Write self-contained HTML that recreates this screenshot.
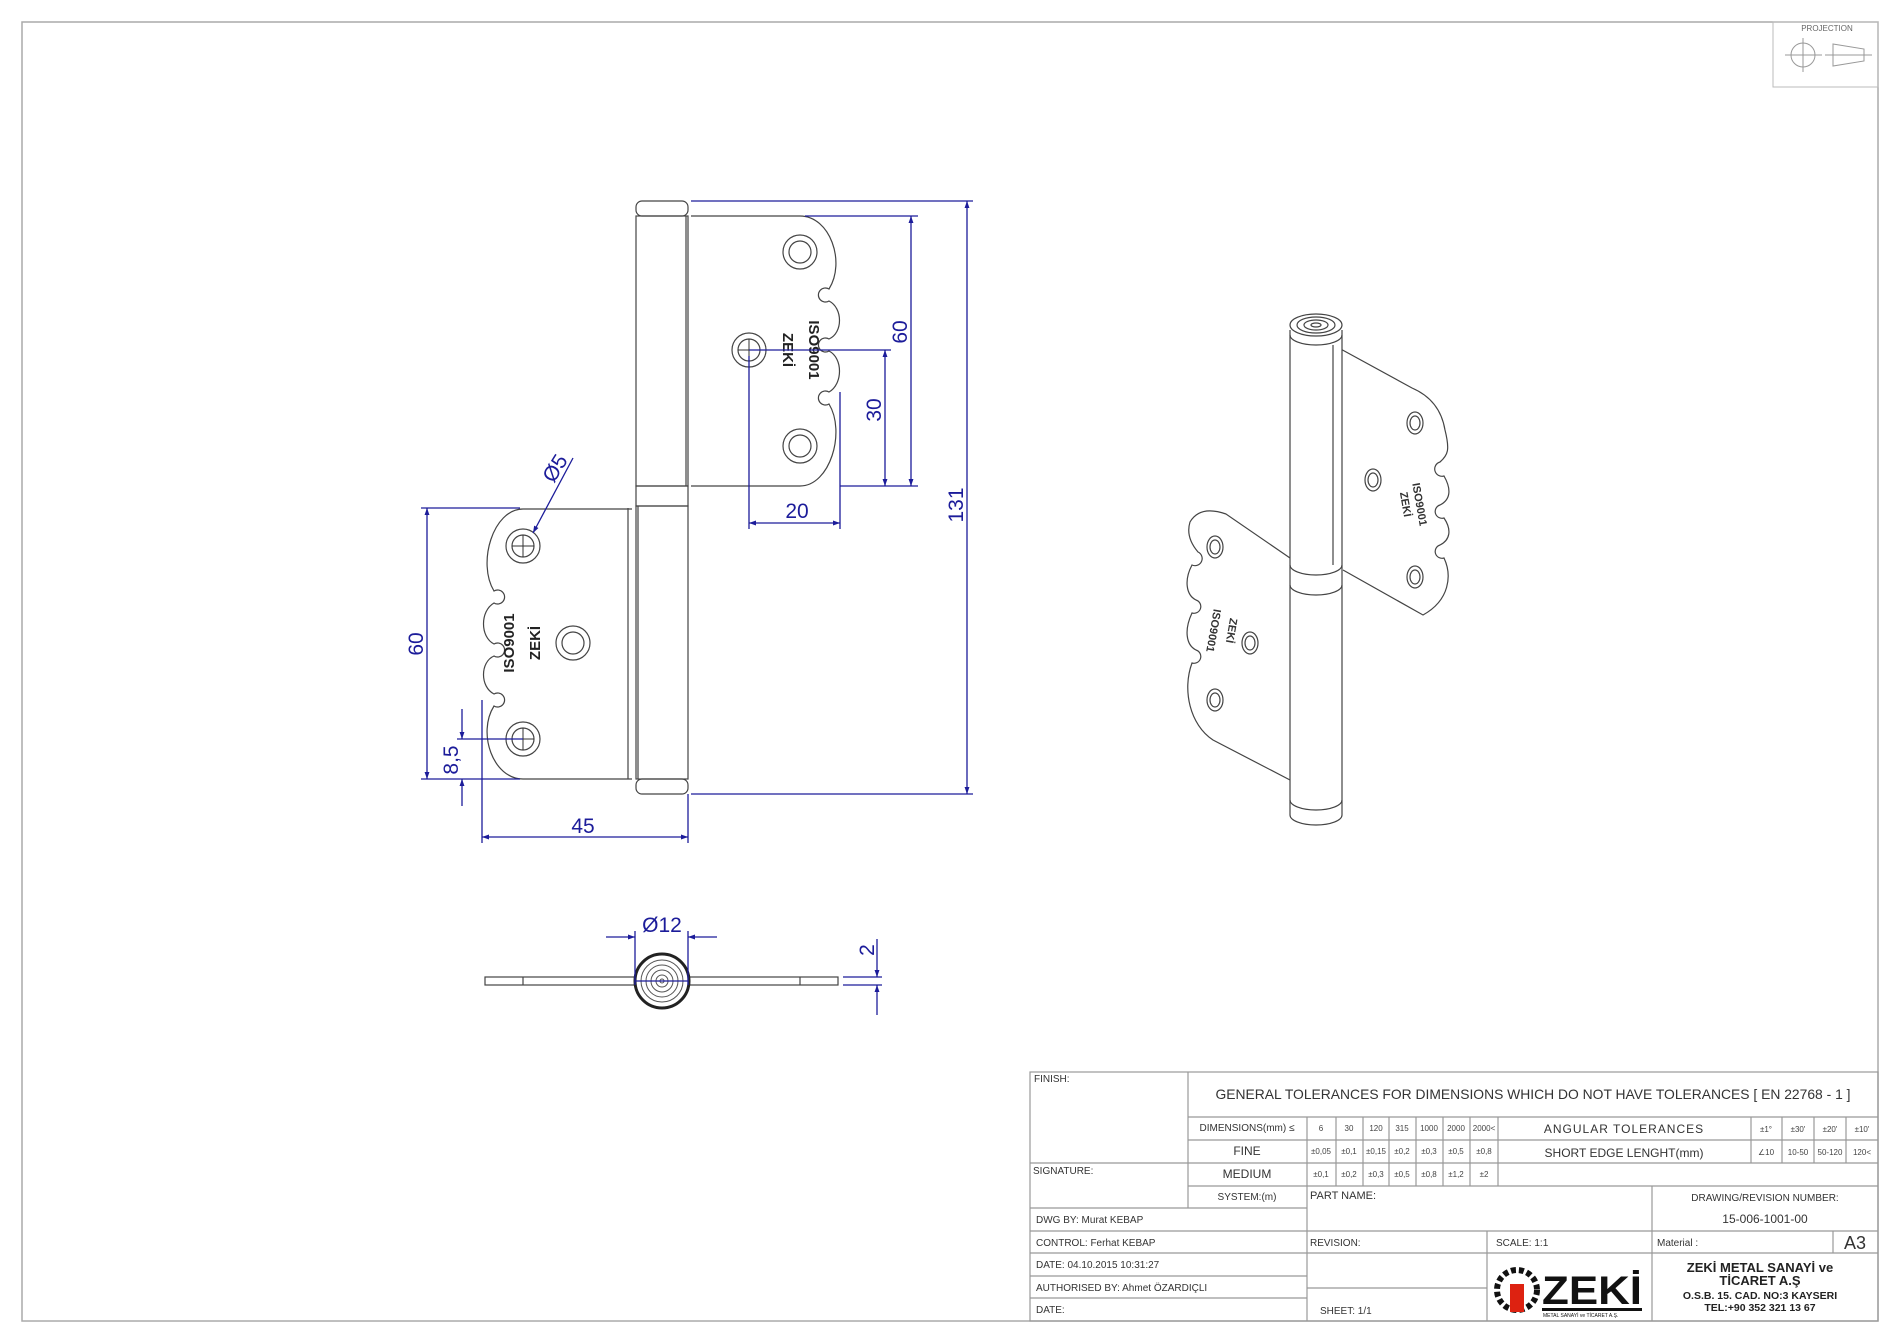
<!DOCTYPE html>
<html><head><meta charset="utf-8"><style>
html,body{margin:0;padding:0;background:#fff;}
svg{display:block;}
text{font-family:"Liberation Sans",sans-serif;}
.d{fill:#1c1c9a;}
.dl{stroke:#1c1c9a;stroke-width:1.3;fill:none;}
.g{stroke:#444;stroke-width:1.2;fill:none;}
.t{stroke:#999;stroke-width:1.2;fill:none;}
.s{font-size:10px;fill:#333;}
</style></head><body>
<svg width="1900" height="1343" viewBox="0 0 1900 1343" xmlns="http://www.w3.org/2000/svg">
<defs>
<marker id="a" viewBox="0 0 10 10" refX="10" refY="5" markerWidth="10" markerHeight="7" orient="auto-start-reverse" markerUnits="userSpaceOnUse"><path d="M0,1.5 L10,5 L0,8.5z" fill="#1c1c9a"/></marker>
<path id="leaf" d="M691,216 L800,216 C830,216 846,262 829,289 A7,7 0 1 0 829,301 C843,308 843,333 829,339 A7,7 0 1 0 829,351 C843,358 843,384 829,392 A7,7 0 1 0 829,404 C846,432 830,486 800,486 L691,486"/>
</defs>
<!-- frame -->
<rect x="22" y="22" width="1856" height="1299" fill="none" stroke="#aaa" stroke-width="1.5"/>
<rect x="1773" y="22" width="105" height="65" fill="none" stroke="#bbb" stroke-width="1"/>
<text x="1827" y="31" font-size="8" fill="#666" text-anchor="middle">PROJECTION</text>
<g stroke="#999" stroke-width="1" fill="none"><circle cx="1803" cy="55" r="12"/><line x1="1785" y1="55" x2="1822" y2="55"/><line x1="1803" y1="38" x2="1803" y2="72"/><path d="M1833,44 L1864,49 L1864,61 L1833,66z"/><line x1="1825" y1="55" x2="1872" y2="55"/></g>

<!-- FRONT VIEW -->
<g class="g">
<rect x="636" y="201" width="52" height="15" rx="6"/>
<rect x="636" y="216" width="52" height="270"/>
<line x1="686" y1="216" x2="686" y2="486"/>
<rect x="636" y="486" width="52" height="20"/>
<rect x="636" y="506" width="52" height="273"/>
<line x1="638" y1="506" x2="638" y2="779"/>
<rect x="636" y="779" width="52" height="15" rx="6"/>
<use href="#leaf"/>
<use href="#leaf" transform="rotate(180 661.5 497.5)"/>
<line x1="628" y1="508" x2="628" y2="779"/>
<circle cx="800" cy="252" r="17"/><circle cx="800" cy="252" r="11"/>
<circle cx="800" cy="446" r="17"/><circle cx="800" cy="446" r="11"/>
<circle cx="749" cy="350" r="17"/><circle cx="749" cy="350" r="11"/>
<circle cx="573" cy="643" r="17"/><circle cx="573" cy="643" r="11"/>
<circle cx="523" cy="546" r="17"/><circle cx="523" cy="546" r="11"/>
<circle cx="523" cy="739" r="17"/><circle cx="523" cy="739" r="11"/>
</g>
<g stroke="#333" stroke-width="1"><line x1="738" y1="350" x2="760" y2="350"/><line x1="749" y1="339" x2="749" y2="361"/>
<line x1="512" y1="546" x2="534" y2="546"/><line x1="523" y1="535" x2="523" y2="557"/>
<line x1="512" y1="739" x2="534" y2="739"/><line x1="523" y1="728" x2="523" y2="750"/></g>
<text transform="translate(783,350) rotate(90)" font-size="15" font-weight="bold" text-anchor="middle" fill="#222">ZEKİ</text>
<text transform="translate(809,350) rotate(90)" font-size="15" font-weight="bold" text-anchor="middle" fill="#222">ISO9001</text>
<text transform="translate(540,643) rotate(-90)" font-size="15" font-weight="bold" text-anchor="middle" fill="#222">ZEKİ</text>
<text transform="translate(514,643) rotate(-90)" font-size="15" font-weight="bold" text-anchor="middle" fill="#222">ISO9001</text>

<!-- dimensions -->
<g class="dl">
<line x1="691" y1="201" x2="973" y2="201"/><line x1="691" y1="794" x2="973" y2="794"/>
<line x1="967" y1="201" x2="967" y2="794" marker-start="url(#a)" marker-end="url(#a)"/>
<line x1="805" y1="216" x2="918" y2="216"/><line x1="840" y1="486" x2="918" y2="486"/>
<line x1="911" y1="216" x2="911" y2="486" marker-start="url(#a)" marker-end="url(#a)"/>
<line x1="749" y1="350" x2="891" y2="350"/>
<line x1="885" y1="350" x2="885" y2="486" marker-start="url(#a)" marker-end="url(#a)"/>
<line x1="749" y1="356" x2="749" y2="529"/><line x1="840" y1="392" x2="840" y2="529"/>
<line x1="749" y1="523" x2="840" y2="523" marker-start="url(#a)" marker-end="url(#a)"/>
<line x1="421" y1="508" x2="520" y2="508"/><line x1="421" y1="779" x2="520" y2="779"/>
<line x1="427" y1="508" x2="427" y2="779" marker-start="url(#a)" marker-end="url(#a)"/>
<line x1="457" y1="739" x2="523" y2="739"/>
<line x1="462" y1="709" x2="462" y2="739" marker-end="url(#a)"/>
<line x1="462" y1="806" x2="462" y2="779" marker-end="url(#a)"/>
<line x1="482" y1="700" x2="482" y2="843"/><line x1="688" y1="794" x2="688" y2="843"/>
<line x1="482" y1="837" x2="688" y2="837" marker-start="url(#a)" marker-end="url(#a)"/>
<line x1="573" y1="458" x2="533" y2="533" marker-end="url(#a)"/>
</g>
<text class="d" font-size="21" transform="translate(963,505) rotate(-90)" text-anchor="middle">131</text>
<text class="d" font-size="21" transform="translate(907,332) rotate(-90)" text-anchor="middle">60</text>
<text class="d" font-size="21" transform="translate(881,410) rotate(-90)" text-anchor="middle">30</text>
<text class="d" font-size="21" x="797" y="518" text-anchor="middle">20</text>
<text class="d" font-size="21" transform="translate(423,644) rotate(-90)" text-anchor="middle">60</text>
<text class="d" font-size="21" transform="translate(458,760) rotate(-90)" text-anchor="middle">8,5</text>
<text class="d" font-size="21" x="583" y="833" text-anchor="middle">45</text>
<text class="d" font-size="21" transform="translate(561,472) rotate(-58)" text-anchor="middle">Ø5</text>

<!-- BOTTOM VIEW -->
<g class="g" stroke="#555">
<rect x="485" y="977" width="353" height="8"/>
<line x1="523" y1="977" x2="523" y2="985"/><line x1="800" y1="977" x2="800" y2="985"/>
</g>
<circle cx="662" cy="981" r="27" fill="#fff" stroke="#222" stroke-width="3"/>
<g fill="none" stroke="#555" stroke-width="1"><circle cx="662" cy="981" r="21"/><circle cx="662" cy="981" r="16"/><circle cx="662" cy="981" r="11"/><circle cx="662" cy="981" r="6"/><circle cx="662" cy="981" r="2"/></g>
<g class="dl">
<line x1="635" y1="931" x2="635" y2="985"/><line x1="688" y1="931" x2="688" y2="985"/>
<line x1="606" y1="937" x2="635" y2="937" marker-end="url(#a)"/><line x1="717" y1="937" x2="688" y2="937" marker-end="url(#a)"/>
<line x1="635" y1="981" x2="688" y2="981"/>
<line x1="843" y1="977" x2="882" y2="977"/><line x1="843" y1="985" x2="882" y2="985"/>
<line x1="877" y1="939" x2="877" y2="977" marker-end="url(#a)"/><line x1="877" y1="1015" x2="877" y2="985" marker-end="url(#a)"/>
</g>
<text class="d" font-size="21" x="662" y="932" text-anchor="middle">Ø12</text>
<text class="d" font-size="21" transform="translate(874,950) rotate(-90)" text-anchor="middle">2</text>

<!-- ISO VIEW -->
<g class="g" stroke="#333">
<path d="M1337,347 L1412,388 Q1440,400 1445,430 C1450,450 1448,455 1440,462 A6,6 0 1 0 1444,476 C1452,490 1450,500 1440,505 A6,6 0 1 0 1444,518 C1452,530 1450,540 1440,545 A6,6 0 1 0 1444,558 C1452,575 1450,600 1423,615 L1343,570"/>
<path d="M1290,558 L1226,514 Q1200,505 1190,522 C1186,535 1192,545 1198,552 A6,6 0 1 1 1192,565 C1184,580 1186,595 1196,600 A6,6 0 1 1 1192,613 C1184,630 1186,645 1196,650 A6,6 0 1 1 1192,663 C1182,690 1190,725 1213,740 L1290,780"/>
<ellipse cx="1415" cy="423" rx="8" ry="11"/><ellipse cx="1415" cy="423" rx="5" ry="7"/>
<ellipse cx="1373" cy="480" rx="8" ry="11"/><ellipse cx="1373" cy="480" rx="5" ry="7"/>
<ellipse cx="1415" cy="577" rx="8" ry="11"/><ellipse cx="1415" cy="577" rx="5" ry="7"/>
<ellipse cx="1215" cy="547" rx="8" ry="11"/><ellipse cx="1215" cy="547" rx="5" ry="7"/>
<ellipse cx="1250" cy="643" rx="8" ry="11"/><ellipse cx="1250" cy="643" rx="5" ry="7"/>
<ellipse cx="1215" cy="700" rx="8" ry="11"/><ellipse cx="1215" cy="700" rx="5" ry="7"/>
<path d="M1290,330 L1290,815 A26,10 0 0 0 1342,815 L1342,330" fill="#fff"/>
<line x1="1333" y1="345" x2="1333" y2="565"/>
<path d="M1290,565 A26,10 0 0 0 1342,565"/>
<path d="M1290,585 A26,10 0 0 0 1342,585"/>
<path d="M1290,800 A26,10 0 0 0 1342,800"/>
<path d="M1290,335 A26,10 0 0 0 1342,335"/>
<ellipse cx="1316" cy="325" rx="26" ry="11" fill="#fff"/>
<ellipse cx="1316" cy="325" rx="19" ry="8"/><ellipse cx="1316" cy="325" rx="12" ry="5"/><ellipse cx="1316" cy="325" rx="5" ry="2"/>
</g>
<text transform="translate(1402,505) rotate(80)" font-size="11" font-weight="bold" text-anchor="middle" fill="#333">ZEKİ</text>
<text transform="translate(1416,505) rotate(80)" font-size="11" font-weight="bold" text-anchor="middle" fill="#333">ISO9001</text>
<text transform="translate(1228,630) rotate(100)" font-size="11" font-weight="bold" text-anchor="middle" fill="#333">ZEKİ</text>
<text transform="translate(1210,630) rotate(100)" font-size="11" font-weight="bold" text-anchor="middle" fill="#333">ISO9001</text>

<!-- TITLE BLOCK -->
<g class="t">
<rect x="1030" y="1072" width="848" height="249"/>
<line x1="1188" y1="1072" x2="1188" y2="1208"/>
<line x1="1188" y1="1117" x2="1878" y2="1117"/>
<line x1="1188" y1="1140" x2="1878" y2="1140"/>
<line x1="1030" y1="1163" x2="1878" y2="1163"/>
<line x1="1188" y1="1186" x2="1878" y2="1186"/>
<line x1="1030" y1="1208" x2="1307" y2="1208"/>
<line x1="1030" y1="1231" x2="1878" y2="1231"/>
<line x1="1030" y1="1253" x2="1878" y2="1253"/>
<line x1="1030" y1="1276" x2="1307" y2="1276"/>
<line x1="1030" y1="1298" x2="1307" y2="1298"/>
<line x1="1307" y1="1288" x2="1487" y2="1288"/>
<line x1="1307" y1="1117" x2="1307" y2="1321"/>
<line x1="1336" y1="1117" x2="1336" y2="1186"/><line x1="1363" y1="1117" x2="1363" y2="1186"/>
<line x1="1389" y1="1117" x2="1389" y2="1186"/><line x1="1416" y1="1117" x2="1416" y2="1186"/>
<line x1="1443" y1="1117" x2="1443" y2="1186"/><line x1="1470" y1="1117" x2="1470" y2="1186"/>
<line x1="1498" y1="1117" x2="1498" y2="1186"/>
<line x1="1751" y1="1117" x2="1751" y2="1163"/><line x1="1782" y1="1117" x2="1782" y2="1163"/>
<line x1="1814" y1="1117" x2="1814" y2="1163"/><line x1="1846" y1="1117" x2="1846" y2="1163"/>
<line x1="1652" y1="1186" x2="1652" y2="1321"/>
<line x1="1487" y1="1231" x2="1487" y2="1321"/>
<line x1="1833" y1="1231" x2="1833" y2="1253"/>
</g>
<text x="1034" y="1082" class="s" font-size="9">FINISH:</text>
<text x="1533" y="1099" font-size="14" fill="#333" text-anchor="middle" textLength="635" lengthAdjust="spacingAndGlyphs">GENERAL TOLERANCES FOR DIMENSIONS WHICH DO NOT HAVE TOLERANCES [ EN 22768 - 1 ]</text>
<text x="1247" y="1131" class="s" font-size="9.5" text-anchor="middle">DIMENSIONS(mm) ≤</text>
<g font-size="8" fill="#444" text-anchor="middle">
<text x="1321" y="1131">6</text><text x="1349" y="1131">30</text><text x="1376" y="1131">120</text><text x="1402" y="1131">315</text><text x="1429" y="1131">1000</text><text x="1456" y="1131">2000</text><text x="1484" y="1131">2000&lt;</text>
<text x="1321" y="1154">±0,05</text><text x="1349" y="1154">±0,1</text><text x="1376" y="1154">±0,15</text><text x="1402" y="1154">±0,2</text><text x="1429" y="1154">±0,3</text><text x="1456" y="1154">±0,5</text><text x="1484" y="1154">±0,8</text>
<text x="1321" y="1177">±0,1</text><text x="1349" y="1177">±0,2</text><text x="1376" y="1177">±0,3</text><text x="1402" y="1177">±0,5</text><text x="1429" y="1177">±0,8</text><text x="1456" y="1177">±1,2</text><text x="1484" y="1177">±2</text>
<text x="1766" y="1132">±1°</text><text x="1798" y="1132">±30'</text><text x="1830" y="1132">±20'</text><text x="1862" y="1132">±10'</text>
<text x="1766" y="1155">∠10</text><text x="1798" y="1155">10-50</text><text x="1830" y="1155">50-120</text><text x="1862" y="1155">120&lt;</text>
</g>
<text x="1247" y="1155" font-size="12" fill="#333" text-anchor="middle">FINE</text>
<text x="1247" y="1178" font-size="12" fill="#333" text-anchor="middle">MEDIUM</text>
<text x="1247" y="1200" class="s" text-anchor="middle">SYSTEM:(m)</text>
<text x="1624" y="1133" font-size="12" fill="#333" text-anchor="middle" letter-spacing="1">ANGULAR  TOLERANCES</text>
<text x="1624" y="1157" font-size="12" fill="#333" text-anchor="middle">SHORT EDGE LENGHT(mm)</text>
<text x="1033" y="1174" class="s" font-size="9">SIGNATURE:</text>
<text x="1310" y="1199" font-size="11" fill="#333">PART NAME:</text>
<text x="1765" y="1201" class="s" text-anchor="middle">DRAWING/REVISION NUMBER:</text>
<text x="1765" y="1223" font-size="12" fill="#333" text-anchor="middle">15-006-1001-00</text>
<text x="1036" y="1223" class="s">DWG BY:  Murat KEBAP</text>
<text x="1036" y="1246" class="s">CONTROL:  Ferhat KEBAP</text>
<text x="1036" y="1268" class="s">DATE: 04.10.2015 10:31:27</text>
<text x="1036" y="1291" class="s">AUTHORISED BY: Ahmet ÖZARDIÇLI</text>
<text x="1036" y="1313" class="s">DATE:</text>
<text x="1310" y="1246" class="s" font-size="9">REVISION:</text>
<text x="1496" y="1246" class="s">SCALE: 1:1</text>
<text x="1657" y="1246" class="s">Material :</text>
<text x="1855" y="1249" font-size="18" fill="#333" text-anchor="middle">A3</text>
<text x="1320" y="1314" class="s">SHEET: 1/1</text>
<g transform="translate(1497,1262)">
<circle cx="20" cy="28" r="20" fill="none" stroke="#111" stroke-width="6" stroke-dasharray="5 3"/>
<rect x="13" y="22" width="14" height="28" fill="#d21"/>
<text x="45" y="42" font-size="40" font-weight="bold" fill="#111" textLength="100" lengthAdjust="spacingAndGlyphs">ZEKİ</text>
<rect x="45" y="46" width="100" height="3" fill="#111"/>
<text x="46" y="55" font-size="5" fill="#111">METAL SANAYİ ve TİCARET A.Ş.</text>
</g>
<g font-weight="bold" fill="#222" text-anchor="middle">
<text x="1760" y="1272" font-size="13">ZEKİ METAL SANAYİ ve</text>
<text x="1760" y="1285" font-size="13">TİCARET A.Ş</text>
<text x="1760" y="1299" font-size="10.5">O.S.B. 15. CAD. NO:3   KAYSERI</text>
<text x="1760" y="1311" font-size="10.5">TEL:+90 352 321 13 67</text>
</g>
</svg>
</body></html>
